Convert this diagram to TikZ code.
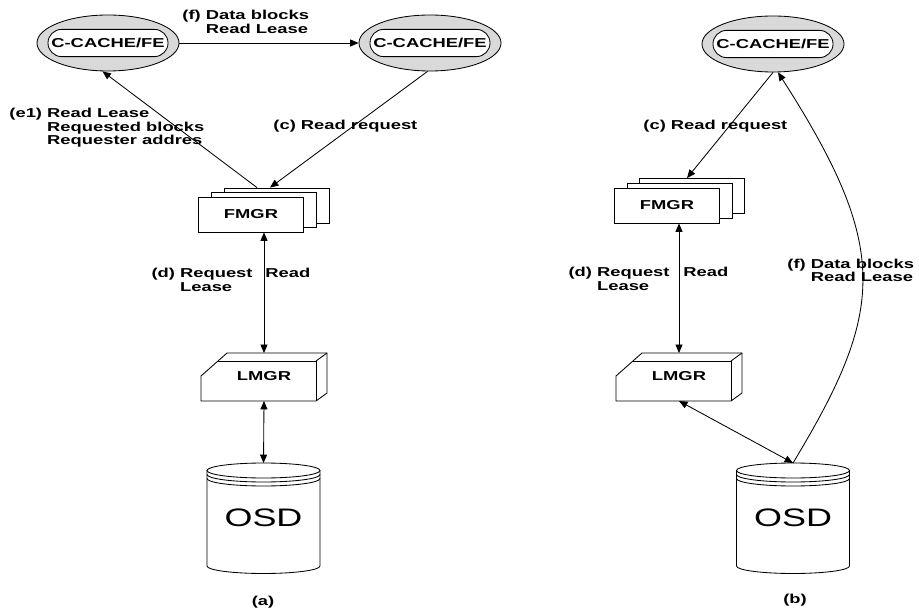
\documentclass[tikz,border=0pt]{standalone}
\usepackage{fontspec}
\setmainfont{Liberation Sans}[FakeStretch=1.42]
\usetikzlibrary{arrows.meta,shapes.geometric,shapes.misc}

\definecolor{cachegray}{RGB}{217,217,217}

\newcommand{\lmgrbox}[2]{
  \begin{scope}[shift={(#2)}]
    \draw[fill=white] (-63,-25) -- ++(0,25) -- ++(26,23) -- ++(100,0) -- ++(0,-40) -- ++(-11,-8) -- cycle;
    \draw (-46,15) -- (52,15) -- (52,-25);
    \draw (52,15) -- ++(11,8);
    \node[lbl] (#1) at (0,0) {LMGR};
    \coordinate (#1-top) at (0,23);
    \coordinate (#1-bot) at (0,-25);
  \end{scope}
}

\newcommand{\osddisk}[2]{
  \begin{scope}[shift={(#2)}]
    \draw (-56.5,47.5) -- (-56.5,-48) arc[start angle=180,end angle=360,x radius=56.5,y radius=7.5] -- (56.5,47.5);
    \draw (0,47.5) ellipse [x radius=56.5,y radius=7.5];
    \draw (-56.5,43.5) arc[start angle=180,end angle=360,x radius=56.5,y radius=7.5];
    \draw (-56.5,39.5) arc[start angle=180,end angle=360,x radius=56.5,y radius=7.5];
    \node[font=\fontsize{18}{20}\selectfont] (#1) at (0,0) {OSD};
    \coordinate (#1-top) at (0,55);
  \end{scope}
}

\begin{document}
\begin{tikzpicture}[x=0.025cm,y=0.025cm,line width=0.6pt,
  lbl/.style={font=\fontsize{9.2}{9.6}\selectfont\bfseries,inner sep=0pt},
  cache/.style={ellipse,draw,fill=cachegray,minimum width=3.55cm,minimum height=1.4cm,inner sep=0pt},
  cachein/.style={rounded rectangle,draw,fill=white,minimum width=3cm,minimum height=0.68cm,inner sep=0pt,lbl},
  fmgr/.style={draw,fill=white,minimum width=2.625cm,minimum height=0.875cm,inner sep=0pt,lbl},
  arr/.style={-{Triangle[length=6pt,width=5pt]}},
  dbl/.style={{Triangle[length=6pt,width=5pt]}-{Triangle[length=6pt,width=5pt]}}]
  \useasboundingbox (0,0) rectangle (919,613);

  % (a)
  \node[cache] (cacheA1) at (108,570) {};
  \node[cachein] (cacheA1in) at (cacheA1) {C-CACHE/FE};
  \node[cache] (cacheA2) at (430,570) {};
  \node[cachein] (cacheA2in) at (cacheA2) {C-CACHE/FE};

  \node[fmgr] (fmgrA3) at (277,407.5) {};
  \node[fmgr] (fmgrA2) at (264,403) {};
  \node[fmgr] (fmgrA) at (251,398.5) {FMGR};

  \lmgrbox{lmgrA}{264,237}
  \osddisk{osdA}{263.5,95}

  \draw[arr] (cacheA1.east) -- (cacheA2.west);
  \draw[arr] ([xshift=-0.5cm]fmgrA3.north) -- (cacheA1.259);
  \draw[arr] (cacheA2.265) -- ([xshift=-0.175cm]fmgrA3.north);
  \draw[dbl] (lmgrA-top |- fmgrA.south) -- (lmgrA-top);
  \draw[dbl] (lmgrA-bot) -- (osdA-top);

  \node[lbl,anchor=base west] (fLblA) at (182,593)
    {\begin{tabular}[t]{@{}l@{\ }l@{}}(f) & Data blocks\\ & Read Lease\end{tabular}};
  \node[lbl,anchor=base west] (e1Lbl) at (9,495)
    {\begin{tabular}[t]{@{}l@{\ }l@{}}(e1) & Read Lease\\ & Requested blocks\\ & Requester addres\end{tabular}};
  \node[lbl,anchor=base west] (cLblA) at (273,483) {(c) Read request};
  \node[lbl,anchor=base east] (dLblA) at (253,335)
    {\begin{tabular}[t]{@{}l@{\ }l@{}}(d) & Request\\ & Lease\end{tabular}};
  \node[lbl,anchor=base west] (readLblA) at (265,335) {Read};
  \node[lbl] (capA) at (263,11) {(a)};

  % (b)
  \node[cache] (cacheB) at (773,569) {};
  \node[cachein] (cacheBin) at (cacheB) {C-CACHE/FE};

  \node[fmgr] (fmgrB3) at (692,417) {};
  \node[fmgr] (fmgrB2) at (679.5,412.5) {};
  \node[fmgr] (fmgrB) at (667,407.5) {FMGR};

  \lmgrbox{lmgrB}{679,237}
  \osddisk{osdB}{793,95}

  \draw[arr] (cacheB.south) -- ([xshift=-0.125cm]fmgrB3.north);
  \draw[dbl] (lmgrB-top |- fmgrB.south) -- (lmgrB-top);
  \draw[dbl] (lmgrB-bot) -- (osdB-top);
  \draw[arr] (osdB-top) .. controls +(92,152.5) and +(113,-176.5) .. (cacheB.280);

  \node[lbl,anchor=base west] (cLblB) at (643,483) {(c) Read request};
  \node[lbl,anchor=base east] (dLblB) at (670,336)
    {\begin{tabular}[t]{@{}l@{\ }l@{}}(d) & Request\\ & Lease\end{tabular}};
  \node[lbl,anchor=base west] (readLblB) at (683,336) {Read};
  \node[lbl,anchor=base west] (fLblB) at (787,345)
    {\begin{tabular}[t]{@{}l@{\ }l@{}}(f) & Data blocks\\ & Read Lease\end{tabular}};
  \node[lbl] (capB) at (795,13) {(b)};
\end{tikzpicture}
\end{document}
